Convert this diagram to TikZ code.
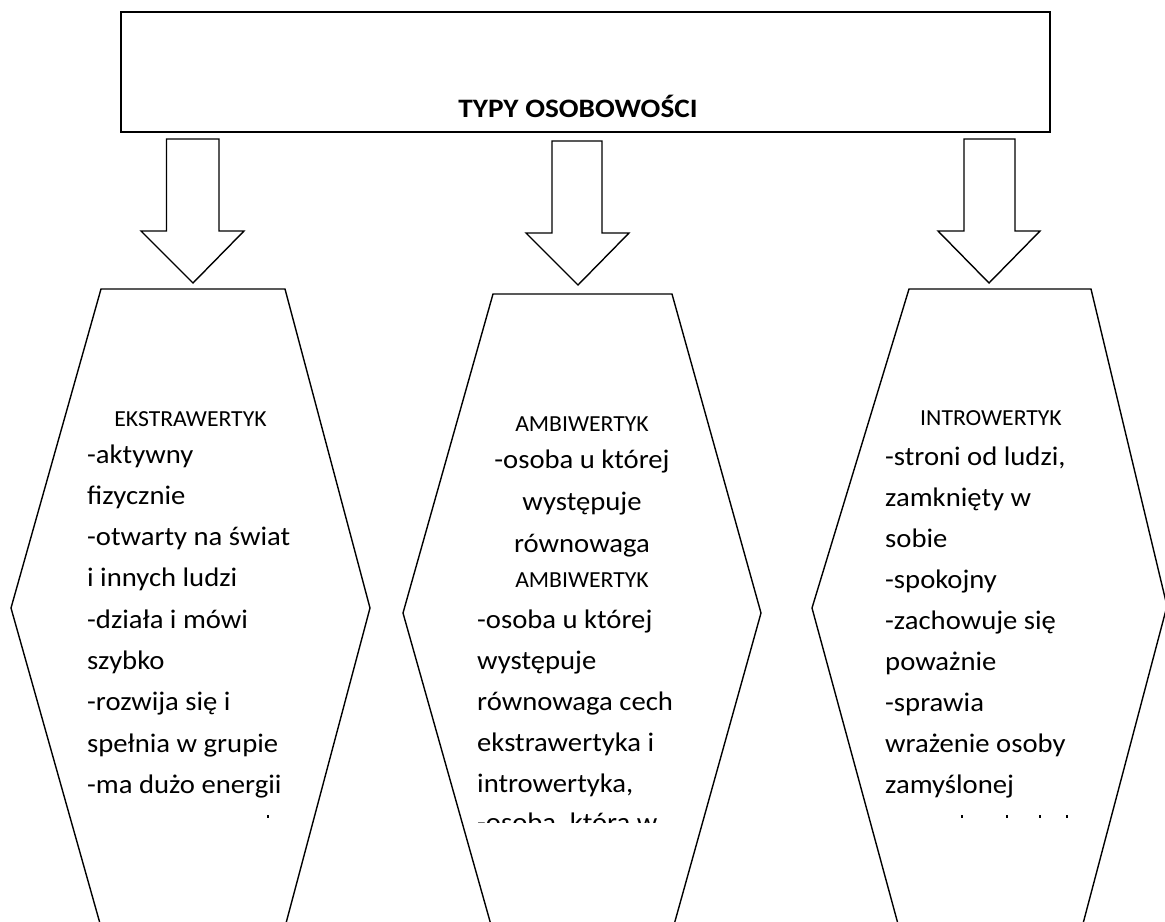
\documentclass[tikz,border=0pt]{standalone}
\usepackage{fontspec}
\setmainfont{Carlito}
\newfontfamily\bodyfont[FakeStretch=1.07]{Carlito}
\newfontfamily\headfont[FakeStretch=1.03]{Carlito}
\newfontfamily\titlefont[FakeStretch=1.1]{Carlito}
\begin{document}
\begin{tikzpicture}[x=1bp,y=-1bp,
  shapeline/.style={draw=black,line width=1.4bp,line join=miter,fill=white},
  boxline/.style={draw=black,line width=2bp,fill=white},
  bodytxt/.style={inner sep=0pt,anchor=base west,font=\bodyfont\fontsize{26.8bp}{30bp}\selectfont},
  bodyctr/.style={inner sep=0pt,anchor=base,font=\bodyfont\fontsize{26.8bp}{30bp}\selectfont},
  headtxt/.style={inner sep=0pt,anchor=base,font=\headfont\fontsize{23bp}{26bp}\selectfont},
  titletxt/.style={inner sep=0pt,anchor=base,font=\titlefont\bfseries\fontsize{26.6bp}{30bp}\selectfont}]
\useasboundingbox (0,0) rectangle (1165,922);
\begin{scope}
\clip (0,0) rectangle (1165,922);
% top box
\draw[boxline] (121,12) rectangle (1050,132);
\node[titletxt] (title) at (578,117) {TYPY OSOBOWOŚCI};
% block arrows
\draw[shapeline] (166.5,139) -- (219,139) -- (219,231) -- (244,231) -- (193,283) -- (141,231) -- (166.5,231) -- cycle;
\draw[shapeline] (552,141) -- (602,141) -- (602,233) -- (629,233) -- (578,285) -- (526,233) -- (552,233) -- cycle;
\draw[shapeline] (964,139) -- (1015,139) -- (1015,231) -- (1040,231) -- (989,283) -- (938,231) -- (964,231) -- cycle;
% hexagons
\draw[shapeline] (101,289) -- (285,289) -- (370,608) -- (285,927) -- (101,927) -- (11,608) -- cycle;
\draw[shapeline] (493,294) -- (672,294) -- (761,613) -- (672,932) -- (493,932) -- (403,613) -- cycle;
\draw[shapeline] (909,289) -- (1091,289) -- (1167,606) -- (1080,935) -- (901,935) -- (812,608) -- cycle;
\end{scope}
% texts
\begin{scope}
\clip (0,0) rectangle (1165,822);
% left
\node[headtxt] (lh) at (190.5,426) {EKSTRAWERTYK};
\foreach \t [count=\i] in {{-aktywny},{fizycznie},{-otwarty na świat},{i innych ludzi},{-działa i mówi},{szybko},{-rozwija się i},{spełnia w grupie},{-ma dużo energii}}
  \node[bodytxt] (L\i) at (87,{463+41.3*(\i-1)}) {\t};
% middle
\node[headtxt] (mh) at (582,431) {AMBIWERTYK};
\node[bodyctr] (MC1) at (582,468) {-osoba u której};
\node[bodyctr] (MC2) at (582,510) {występuje};
\node[bodyctr] (MC3) at (582,552) {równowaga};
\node[headtxt] (mh2) at (582,587) {AMBIWERTYK};
\foreach \t [count=\i] in {{-osoba u której},{występuje},{równowaga cech},{ekstrawertyka i},{introwertyka,}}
  \node[bodytxt] (M\i) at (477,{628+41*(\i-1)}) {\t};
\node[bodytxt] (M6) at (477,831) {-osoba, która w};
% right
\node[headtxt] (rh) at (991,425) {INTROWERTYK};
\foreach \t [count=\i] in {{-stroni od ludzi,},{zamknięty w},{sobie},{-spokojny},{-zachowuje się},{poważnie},{-sprawia},{wrażenie osoby},{zamyślonej}}
  \node[bodytxt] (R\i) at (885,{465+41*(\i-1)}) {\t};
% clipped remnants of the next lines
\fill (267,815) rectangle (269,818);
\fill (961,815) rectangle (963,818);
\fill (1006,815) rectangle (1008,818);
\fill (1039,815) rectangle (1041,818);
\fill (1066,815) rectangle (1068,818);
\end{scope}
\end{tikzpicture}
\end{document}
